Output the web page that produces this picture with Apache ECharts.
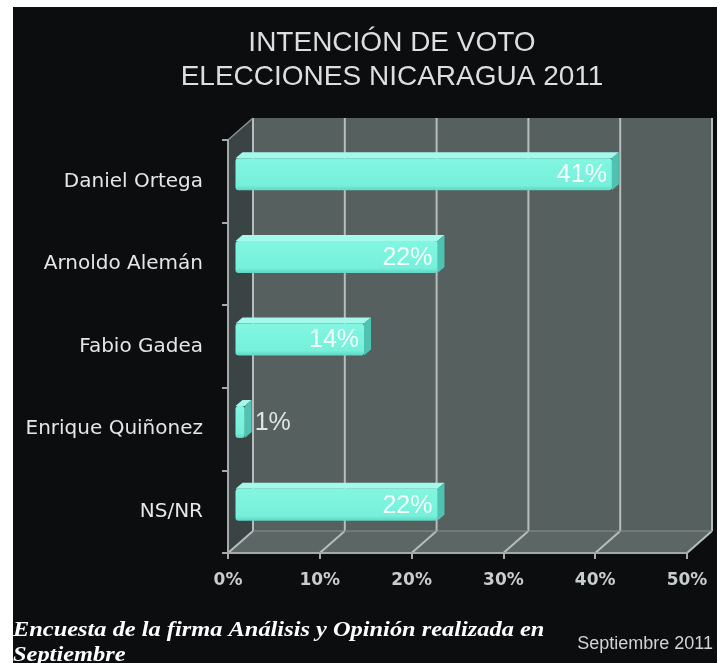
<!DOCTYPE html>
<html>
<head>
<meta charset="utf-8">
<script src="https://cdn.jsdelivr.net/npm/echarts@6/dist/echarts.min.js"></script>
<style>
	html, body { margin: 0; padding: 0; background: #ffffff; }
	#chart { position: absolute; left: 13px; top: 7px; width: 704px; height: 656px; }
</style>
</head>
<body>
<div id="chart"></div>
<script>
	// datos de la encuesta
	var candidatos = ["Daniel Ortega", "Arnoldo Alemán", "Fabio Gadea", "Enrique Quiñonez", "NS/NR"];
	var porcentajes = [41, 22, 14, 1, 22];
	var ticksX = [0, 10, 20, 30, 40, 50];

	var chart = echarts.init(document.getElementById("chart"));

	// profundidad del "3D"
	var DX = 25, DY = -22;

	var renderFrame = function(params, api)
	{
		var cs = params.coordSys;
		var x = cs.x, y = cs.y, w = cs.width, h = cs.height;
		var children = [];

		// pared del fondo
		children.push({ type: "rect", shape: { x: x + DX, y: y + DY, width: w, height: h },
			style: { fill: "#55605f" } });
		// pared izquierda
		children.push({ type: "polygon", shape: { points: [[x, y], [x + DX, y + DY], [x + DX, y + h + DY], [x, y + h]] },
			style: { fill: "#3b4444" } });
		// piso
		children.push({ type: "polygon", shape: { points: [[x, y + h], [x + DX, y + h + DY], [x + w + DX, y + h + DY], [x + w, y + h]] },
			style: { fill: "#5b6665" } });

		for(var i=0; i<ticksX.length; i++)
		{
			var px = api.coord([ticksX[i], 0])[0];
			children.push({ type: "line", shape: { x1: px + DX, y1: y + DY, x2: px + DX, y2: y + h + DY },
				style: { stroke: "#b6bdbc", lineWidth: 2 } });
			children.push({ type: "line", shape: { x1: px, y1: y + h, x2: px + DX, y2: y + h + DY },
				style: { stroke: "#b6bdbc", lineWidth: 2 } });
		}

		// bordes
		children.push({ type: "line", shape: { x1: x, y1: y, x2: x + DX, y2: y + DY },
			style: { stroke: "#8a9291", lineWidth: 1.5 } });
		children.push({ type: "line", shape: { x1: x + DX, y1: y + h + DY, x2: x + w + DX, y2: y + h + DY },
			style: { stroke: "#8a9291", lineWidth: 1 } });

		return { type: "group", children: children };
	};

	var renderBar = function(params, api)
	{
		var v = api.value(0);
		var idx = api.value(1);
		var p0 = api.coord([0, idx]);
		var p1 = api.coord([v, idx]);
		var bx = 7.5, by = -7;
		var bh = 32, tdx = 7, tdy = -6;

		var x0 = p0[0] + bx, x1 = p1[0] + bx;
		var yt = p0[1] + by - bh / 2, yb = yt + bh;

		var children = [
			{ type: "polygon", shape: { points: [[x0, yt], [x0 + tdx, yt + tdy], [x1 + tdx, yt + tdy], [x1, yt]] },
				style: { fill: "#a4faea" } },
			{ type: "polygon", shape: { points: [[x1, yt], [x1 + tdx, yt + tdy], [x1 + tdx, yb + tdy], [x1, yb]] },
				style: { fill: "#4fc3b1" } },
			{ type: "rect", shape: { x: x0, y: yt, width: x1 - x0, height: bh, r: 3 },
				style: { fill: new echarts.graphic.LinearGradient(0, 0, 0, 1, [
					{ offset: 0, color: "#82f6e1" }, { offset: 0.85, color: "#76f0da" }, { offset: 1, color: "#5fd6c3" }]) } }
		];

		var inside = v >= 5;
		children.push({
			type: "text",
			style: {
				text: v + "%",
				x: inside ? x1 - 5 : x1 + tdx + 3,
				y: (yt + yb) / 2 + 1,
				align: inside ? "right" : "left",
				verticalAlign: "middle",
				fill: inside ? "#f2fffc" : "#dfe4e3",
				font: "25px 'Liberation Sans', Arial, sans-serif"
			}
		});

		return { type: "group", children: children };
	};

	var barData = [];
	for(var i=0; i<porcentajes.length; i++)
		barData.push([porcentajes[i], i]);

	var option =
	{
		backgroundColor: "#0b0d0e",
		animation: false,
		title:
		{
			text: "INTENCIÓN DE VOTO\nELECCIONES NICARAGUA 2011",
			left: 374,
			top: 14,
			textAlign: "center",
			textStyle:
			{
				color: "#dedede",
				fontFamily: "'Liberation Sans', Arial, sans-serif",
				fontWeight: "normal",
				fontSize: 28,
				lineHeight: 34
			}
		},
		grid: { left: 215, top: 133, width: 459, height: 413 },
		xAxis:
		{
			type: "value",
			min: 0,
			max: 50,
			interval: 10,
			z: 5,
			splitLine: { show: false },
			axisLine: { show: true, lineStyle: { color: "#a3aaa9", width: 2 } },
			axisTick: { show: true, length: 6, lineStyle: { color: "#a3aaa9", width: 2 } },
			axisLabel:
			{
				formatter: "{value}%",
				margin: 19,
				color: "#c9cccc",
				fontSize: 17,
				fontWeight: "bold",
				fontFamily: "'DejaVu Sans', sans-serif"
			}
		},
		yAxis:
		{
			type: "category",
			inverse: true,
			data: candidatos,
			z: 5,
			axisLine: { show: true, lineStyle: { color: "#a3aaa9", width: 2 } },
			axisTick: { show: true, length: 6, lineStyle: { color: "#a3aaa9", width: 2 } },
			axisLabel:
			{
				margin: 25,
				color: "#e6e6e6",
				fontSize: 20,
				fontFamily: "'DejaVu Sans', sans-serif"
			}
		},
		series:
		[
			{
				type: "custom",
				name: "marco",
				z: 0,
				clip: false,
				silent: true,
				renderItem: renderFrame,
				data: [[0, 0]]
			},
			{
				type: "custom",
				name: "intención",
				z: 10,
				clip: false,
				renderItem: renderBar,
				encode: { x: 0, y: 1 },
				data: barData
			}
		],
		graphic:
		[
			{
				type: "text",
				left: 0,
				top: 611,
				scaleX: 1.22,
				style:
				{
					text: "Encuesta de la firma Análisis y Opinión realizada en\nSeptiembre",
					fill: "#ffffff",
					font: "italic bold 20px 'Liberation Serif', 'Times New Roman', serif",
					lineHeight: 25
				}
			},
			{
				type: "text",
				right: 4,
				top: 628,
				style:
				{
					text: "Septiembre 2011",
					fill: "#d2d4d4",
					font: "18px 'Liberation Sans', Arial, sans-serif"
				}
			}
		]
	};

	chart.setOption(option);
</script>
</body>
</html>
